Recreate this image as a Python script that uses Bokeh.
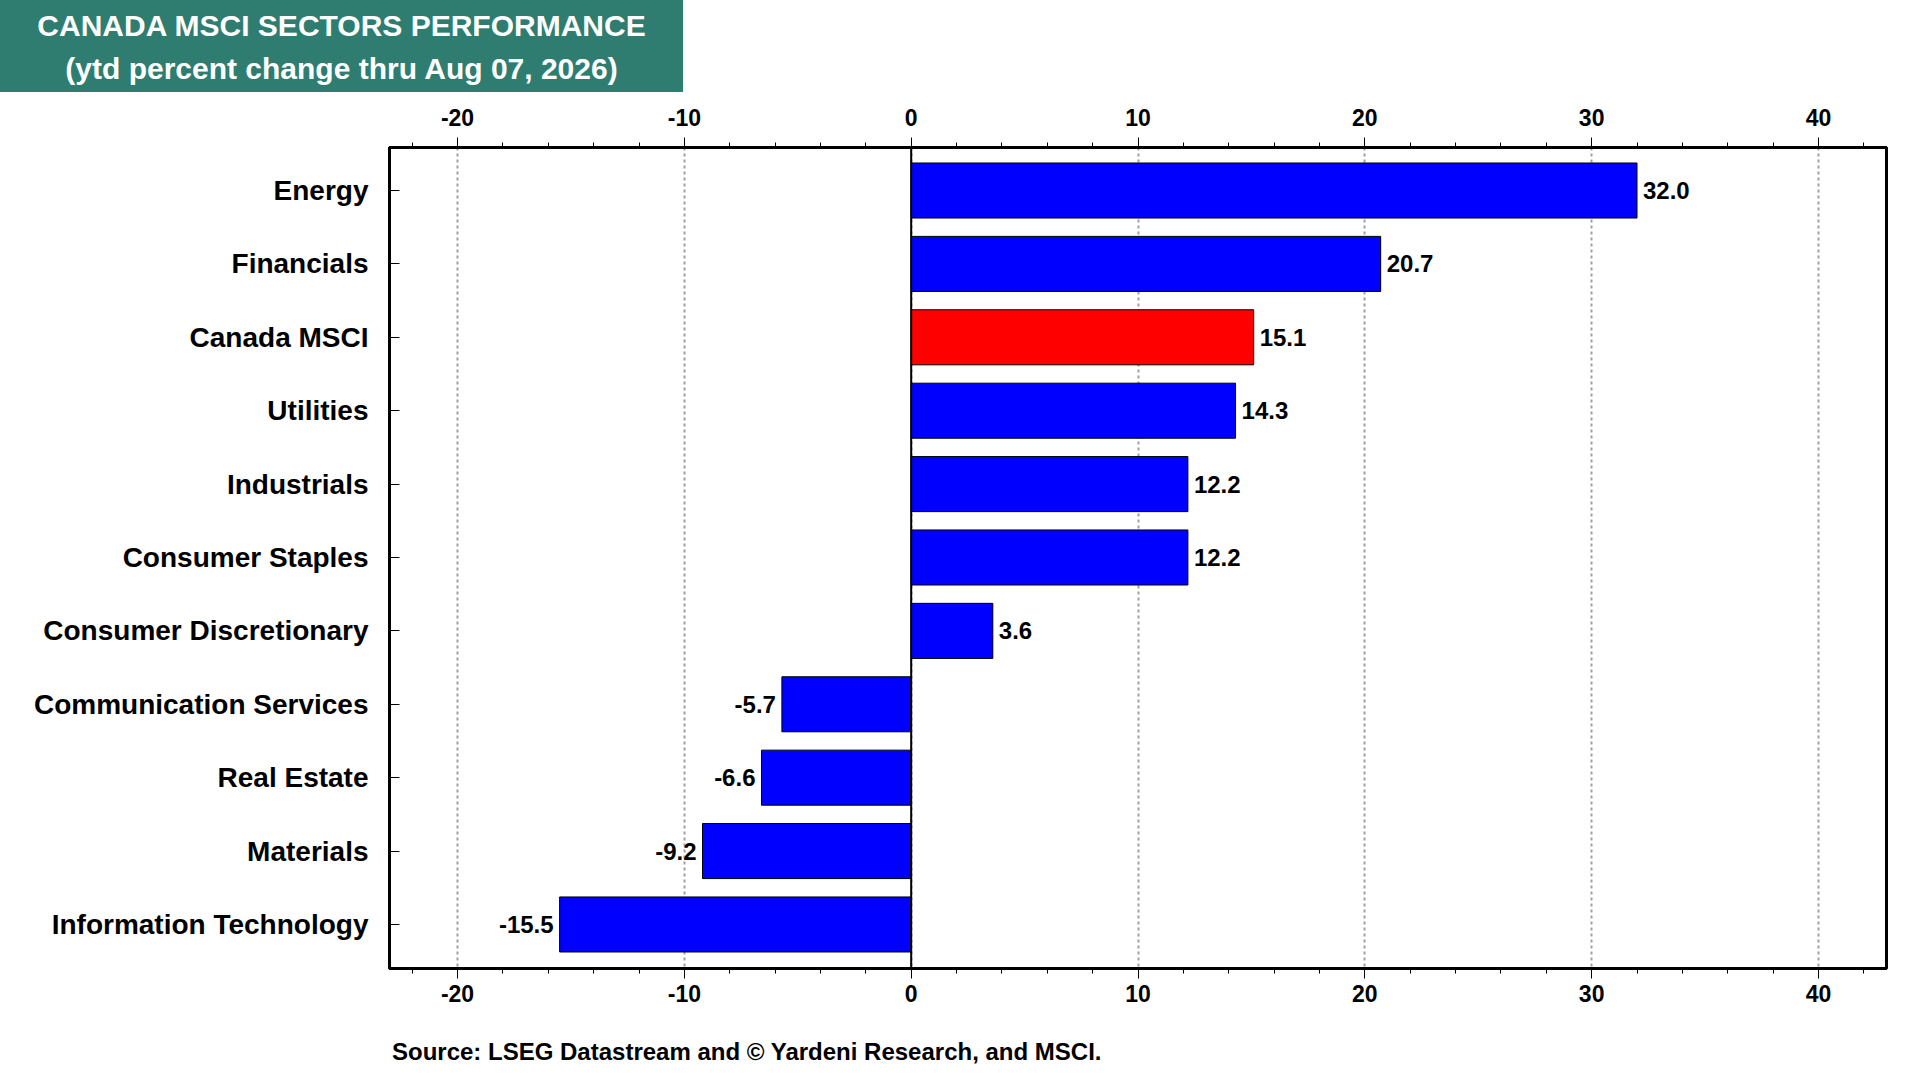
from bokeh.plotting import figure
from bokeh.models import (ColumnDataSource, Range1d, LinearAxis, FixedTicker,
                          SingleIntervalTicker, Span, Div)
from bokeh.layouts import column
from bokeh.core.properties import value
from bokeh.embed import file_html
from bokeh.resources import INLINE

categories = ["Energy", "Financials", "Canada MSCI", "Utilities", "Industrials",
              "Consumer Staples", "Consumer Discretionary", "Communication Services",
              "Real Estate", "Materials", "Information Technology"]
values = [32.0, 20.7, 15.1, 14.3, 12.2, 12.2, 3.6, -5.7, -6.6, -9.2, -15.5]
highlight = "Canada MSCI"
x_ticks = [-20, -10, 0, 10, 20, 30, 40]
title_lines = ["CANADA MSCI SECTORS PERFORMANCE", "(ytd percent change thru Aug 07, 2026)"]
source_text = "Source: LSEG Datastream and \u00a9 Yardeni Research, and MSCI."

FONT = "Liberation Sans"
W = 1904
TITLE_W, TITLE_H = 683, 92
B_LEFT, B_RIGHT, B_TOP, B_BOTTOM = 389, 18, 55, 46
FIG_H = B_TOP + 821 + B_BOTTOM
SRC_H = 1064 - TITLE_H - FIG_H

pos = list(range(len(categories)))
colors = ["#FF0000" if c == highlight else "#0000FF" for c in categories]
labels = ["%.1f" % v for v in values]

src = ColumnDataSource(dict(y=pos, v=values, c=colors))
pos_src = ColumnDataSource(dict(y=[p for p, v in zip(pos, values) if v >= 0],
                                v=[v for v in values if v >= 0],
                                lab=[l for l, v in zip(labels, values) if v >= 0]))
neg_src = ColumnDataSource(dict(y=[p for p, v in zip(pos, values) if v < 0],
                                v=[v for v in values if v < 0],
                                lab=[l for l, v in zip(labels, values) if v < 0]))

p = figure(width=W, height=FIG_H, output_backend="svg", toolbar_location=None,
           x_range=Range1d(-23, 43), y_range=Range1d(10.6, -0.586),
           x_axis_location="above", min_border_left=B_LEFT, min_border_right=B_RIGHT,
           min_border_top=B_TOP, min_border_bottom=B_BOTTOM)
p.title.visible = False
p.background_fill_color = "white"
p.border_fill_color = "white"
p.outline_line_color = "black"
p.outline_line_width = 3

p.ygrid.visible = False
p.xgrid.ticker = FixedTicker(ticks=x_ticks)
p.xgrid.grid_line_color = "#A0A0A0"
p.xgrid.grid_line_dash = "3 3"
p.xgrid.grid_line_width = 2

def style_x(ax, standoff):
    ax.ticker = SingleIntervalTicker(interval=10, num_minor_ticks=5)
    ax.major_label_overrides = {t: "%d" % t for t in x_ticks}
    ax.axis_line_color = "black"
    ax.axis_line_width = 3
    ax.major_tick_in = 0
    ax.major_tick_out = 10
    ax.minor_tick_in = 0
    ax.minor_tick_out = 5
    ax.major_tick_line_color = "black"
    ax.minor_tick_line_color = "black"
    ax.major_tick_line_width = 1
    ax.minor_tick_line_width = 1
    ax.major_label_text_font = FONT
    ax.major_label_text_font_style = "bold"
    ax.major_label_text_font_size = "23px"
    ax.major_label_text_color = "black"
    ax.major_label_standoff = standoff

style_x(p.xaxis[0], 12)
bottom = LinearAxis()
style_x(bottom, 6)
p.add_layout(bottom, "below")

ya = p.yaxis[0]
ya.ticker = FixedTicker(ticks=pos)
ya.major_label_overrides = {i: c for i, c in enumerate(categories)}
ya.axis_line_color = "black"
ya.axis_line_width = 3
ya.major_tick_in = 10
ya.major_tick_out = 0
ya.major_tick_line_color = "black"
ya.major_tick_line_width = 1
ya.minor_tick_line_color = None
ya.major_label_text_font = FONT
ya.major_label_text_font_style = "bold"
ya.major_label_text_font_size = "28px"
ya.major_label_text_color = "black"
ya.major_label_standoff = 21

p.hbar(y="y", left=0, right="v", height=0.75, fill_color="c", line_color="black",
       line_width=1, source=src)

p.add_layout(Span(location=0, dimension="height", line_color="black", line_width=2))

p.text(x="v", y="y", text="lab", source=pos_src, x_offset=6,
       text_align="left", text_baseline="middle", text_font=value(FONT),
       text_font_style="bold", text_font_size="24px", text_color="black")
p.text(x="v", y="y", text="lab", source=neg_src, x_offset=-6,
       text_align="right", text_baseline="middle", text_font=value(FONT),
       text_font_style="bold", text_font_size="24px", text_color="black")

title_html = (
    "<div style=\"width:%dpx;height:%dpx;background:#2E7D70;color:white;"
    "font-family:'Liberation Sans',Arial,sans-serif;font-weight:bold;font-size:30px;"
    "line-height:43px;text-align:center;padding-top:4px;box-sizing:border-box;\">%s<br>%s</div>"
    % (TITLE_W, TITLE_H, title_lines[0], title_lines[1]))
title_div = Div(text=title_html, width=TITLE_W, height=TITLE_H, margin=0)

source_html = (
    "<div style=\"height:%dpx;padding-left:%dpx;padding-top:%dpx;box-sizing:border-box;"
    "color:black;font-family:'Liberation Sans',Arial,sans-serif;font-weight:bold;"
    "font-size:24px;line-height:24px;white-space:nowrap;\">%s</div>"
    % (SRC_H, B_LEFT + 3, SRC_H - 24, source_text))
source_div = Div(text=source_html, width=W, height=SRC_H, margin=0)

layout = column(title_div, p, source_div, spacing=0)

open("out.html", "w").write(file_html(layout, INLINE))
